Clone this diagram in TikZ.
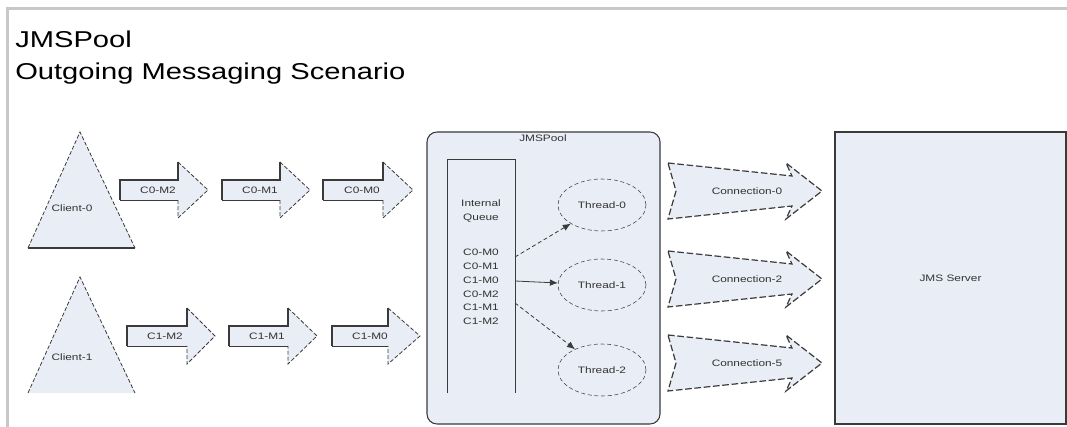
\documentclass[tikz,border=0pt]{standalone}
\usepackage{fontspec}
\setmainfont{Liberation Sans}[FakeStretch=1.27]
\usetikzlibrary{shapes.geometric,arrows.meta}
\definecolor{boxfill}{HTML}{E9EDF5}
\definecolor{lineclr}{HTML}{3A3A3A}
\definecolor{txtclr}{HTML}{333333}
\definecolor{frameclr}{HTML}{C8C8C8}
\tikzset{
  lbl/.style={font=\fontsize{7}{9}\selectfont, text=txtclr, inner sep=0pt},
  thread/.style={ellipse, draw=lineclr, densely dashed, fill=boxfill, minimum width=66pt, minimum height=39pt, inner sep=0pt, font=\fontsize{7}{9}\selectfont, text=txtclr},
  conn/.style={lineclr, line width=0.6pt, -{Latex[length=6pt,width=5pt]}},
  shapeline/.style={lineclr, dash pattern=on 3pt off 1.5pt, line width=0.6pt},
  connline/.style={draw=lineclr, dash pattern=on 5pt off 2pt, line width=0.9pt},
}
\newcommand\msgarrow[6]{%
  \fill[boxfill] (#2,#5-10) -- (#3,#5-10) -- (#3,#5-28) -- (#4,#5) -- (#3,#5+28) -- (#3,#5+10) -- (#2,#5+10) -- cycle;
  \draw[shapeline] (#3,#5-28) -- (#4,#5) -- (#3,#5+28) -- (#3,#5+10);
  \draw[lineclr, line width=1pt] (#2,#5+10) -- (#2,#5-10) -- (#3,#5-10) -- (#3,#5-28);
  \draw[lineclr, line width=0.6pt] (#2,#5+10) -- (#3,#5+10);
  \node[lbl] (#1) at ({(#2+#4)/2-6},#5) {#6};
}
\newcommand\connarrow[3]{%
  \path[connline, fill=boxfill] (668,#2-28) -- (792,#2-15) -- (786,#2-28) -- (822,#2) -- (786,#2+28) -- (792,#2+15) -- (668,#2+28) -- (676,#2) -- cycle;
  \node[lbl] (#1) at (747,#2) {#3};
}
\begin{document}
\begin{tikzpicture}[x=0.75pt, y=-0.75pt]
\useasboundingbox (0,0) rectangle (1067,427);
% frame
\draw[frameclr, line width=2.25pt] (7,427) -- (7,8.5) -- (1067,8.5);
% titles
\node[anchor=base west, inner sep=0pt, font=\fontsize{17.2}{20}\selectfont] (title1) at (15,48) {JMSPool};
\node[anchor=base west, inner sep=0pt, font=\fontsize{17.2}{20}\selectfont] (title2) at (15,80) {Outgoing Messaging Scenario};
% clients
\fill[boxfill] (80,132) -- (135,248) -- (28,248) -- cycle;
\draw[shapeline] (28,248) -- (80,132) -- (135,248);
\draw[lineclr, line width=1pt] (28,248) -- (135,248);
\node[lbl] (client0) at (72,208) {Client-0};
\fill[boxfill] (80,277) -- (135,393) -- (28,393) -- cycle;
\draw[shapeline] (28,393) -- (80,277) -- (135,393);
\node[lbl] (client1) at (72,357) {Client-1};
% messages
\msgarrow{m02}{120}{178}{208}{190}{C0-M2}
\msgarrow{m01}{222}{280}{310}{190}{C0-M1}
\msgarrow{m00}{323}{383}{413}{190}{C0-M0}
\msgarrow{m12}{127}{187}{215}{336}{C1-M2}
\msgarrow{m11}{229}{288}{317}{336}{C1-M1}
\msgarrow{m10}{332}{388}{420}{336}{C1-M0}
% pool
\node[draw=lineclr, fill=boxfill, line width=0.8pt, rounded corners=7.5pt, minimum width=174.75pt, minimum height=219pt, inner sep=0pt] (pool) at (543.5,278) {};
\node[lbl] (pooltitle) at (543,138) {JMSPool};
% queue
\node[minimum width=50.25pt, minimum height=174.75pt, inner sep=0pt] (queue) at (481.5,276.5) {};
\draw[lineclr, line width=0.8pt] (queue.south west) -- (queue.north west) -- (queue.north east) -- (queue.south east);
\node[lbl, align=center, font=\fontsize{7}{10}\selectfont] (qtitle) at (481,211) {Internal\\Queue};
\node[lbl, align=center, font=\fontsize{7}{10.3}\selectfont] (qlist) at (481,287) {C0-M0\\C0-M1\\C1-M0\\C0-M2\\C1-M1\\C1-M2};
% threads
\node[thread] (t0) at (602,205) {Thread-0};
\node[thread] (t1) at (602,285) {Thread-1};
\node[thread] (t2) at (602,370) {Thread-2};
\coordinate (qa) at (515,257);
\coordinate (qb) at (515,281);
\coordinate (qc) at (515,303);
\draw[conn, densely dashed] (qa) -- (t0);
\draw[conn] (qb) -- (t1);
\draw[conn, densely dashed] (qc) -- (t2);
% connections
\connarrow{c0}{191}{Connection-0}
\connarrow{c2}{279}{Connection-2}
\connarrow{c5}{363}{Connection-5}
% server
\node[draw=lineclr, fill=boxfill, line width=0.8pt, minimum width=173.25pt, minimum height=219pt, inner sep=0pt, font=\fontsize{7}{9}\selectfont, text=txtclr] (server) at (950.5,278) {JMS Server};
\end{tikzpicture}
\end{document}
